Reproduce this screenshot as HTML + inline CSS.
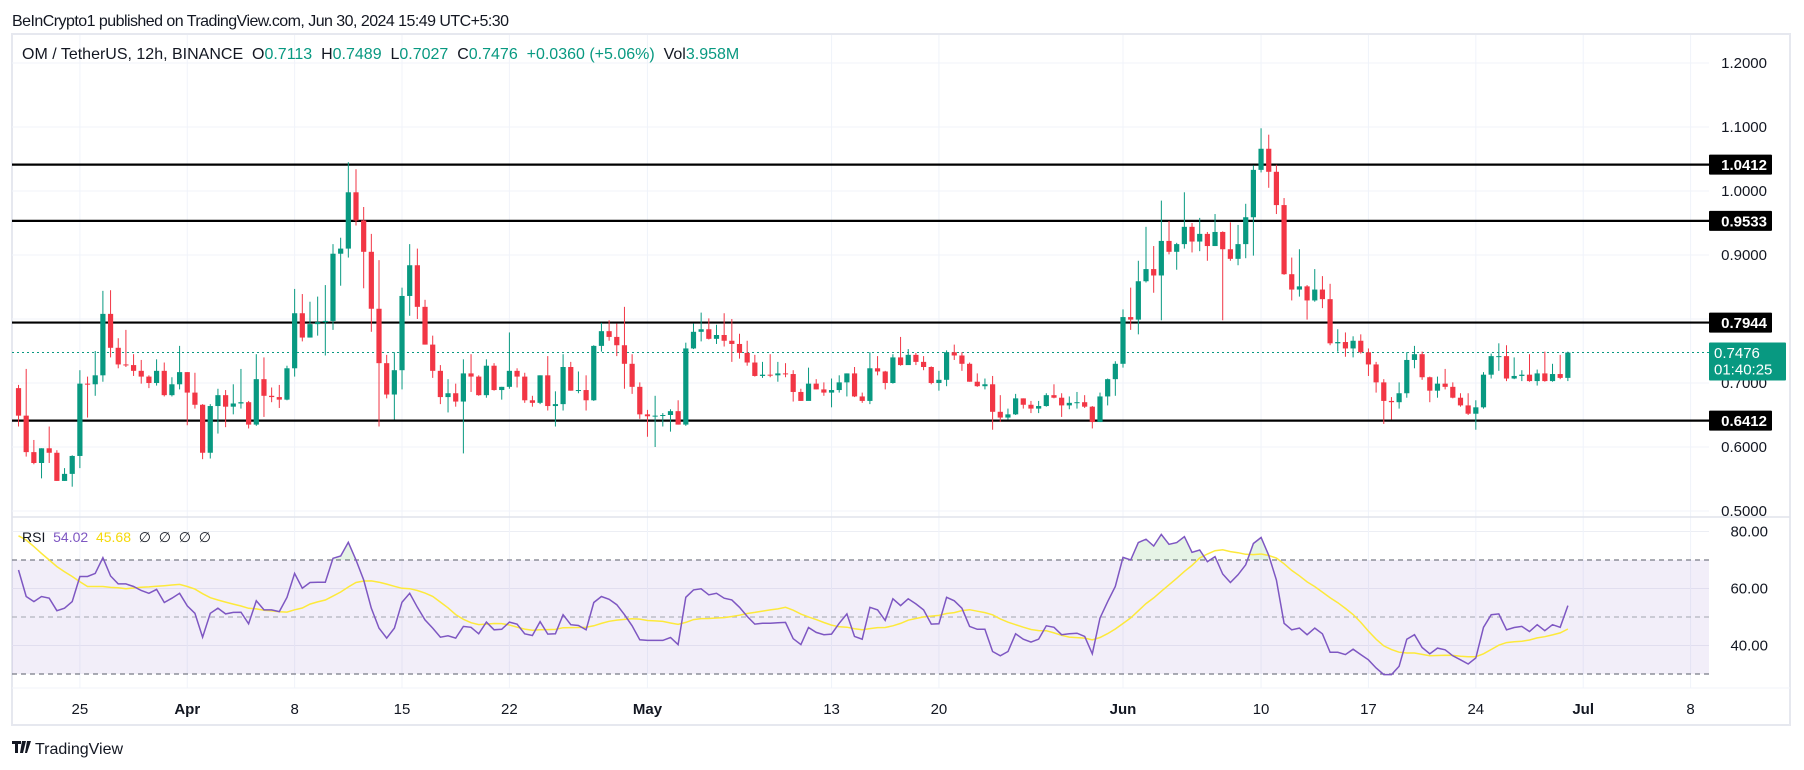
<!DOCTYPE html>
<html><head><meta charset="utf-8"><title>OM / TetherUS 12h chart</title>
<style>
html,body{margin:0;padding:0;background:#fff;}
svg{display:block;font-family:"Liberation Sans",sans-serif;}
</style></head>
<body>
<svg id="chart" width="1804" height="770" viewBox="0 0 1804 770" xmlns="http://www.w3.org/2000/svg">
<rect x="0" y="0" width="1804" height="770" fill="#ffffff"/>
<text x="12" y="26" font-size="16" fill="#131722" textLength="497">BeInCrypto1 published on TradingView.com, Jun 30, 2024 15:49 UTC+5:30</text>
<rect x="12" y="34" width="1778" height="691" fill="none" stroke="#e6e8ef" stroke-width="2"/>
<g id="grid"></g>
<g id="rsiPane"></g>
<g id="levels"></g>
<g id="candles"></g>
<g id="axes"></g>
<g>
<text x="22" y="59" font-size="16" fill="#131722">OM / TetherUS, 12h, BINANCE&#160;&#160;O<tspan fill="#089981">0.7113</tspan>&#160;&#160;H<tspan fill="#089981">0.7489</tspan>&#160;&#160;L<tspan fill="#089981">0.7027</tspan>&#160;&#160;C<tspan fill="#089981">0.7476</tspan>&#160;&#160;<tspan fill="#089981">+0.0360 (+5.06%)</tspan>&#160;&#160;Vol<tspan fill="#089981">3.958M</tspan></text>
<text x="22" y="542" font-size="14" fill="#131722">RSI&#160;&#160;<tspan fill="#7e57c2">54.02</tspan>&#160;&#160;<tspan fill="#f5d90a">45.68</tspan>&#160;&#160;∅&#160;&#160;∅&#160;&#160;∅&#160;&#160;∅</text>
</g>
<g>
<path d="M12 741h9v3h-3v9h-3v-9h-3z M22 741h4l-3 12h-3z M27 741h4l-4 12h-2z" fill="#131722"/>
<text x="35" y="754" font-size="16" fill="#131722">TradingView</text>
</g>
</svg>
<script>
const closes=[0.649,0.592,0.575,0.598,0.591,0.547,0.558,0.586,0.699,0.698,
0.712,0.808,0.755,0.729,0.728,0.719,0.710,0.700,0.719,0.681,
0.698,0.717,0.685,0.666,0.591,0.664,0.681,0.663,0.668,0.670,
0.635,0.706,0.680,0.678,0.674,0.723,0.809,0.771,0.792,0.795,
0.797,0.902,0.910,0.998,0.954,0.905,0.816,0.731,0.682,0.720,
0.836,0.884,0.819,0.760,0.719,0.678,0.684,
0.671,0.715,0.710,0.681,0.727,0.689,0.694,0.719,0.710,0.673,
0.669,0.712,0.664,0.667,0.725,0.688,0.689,0.673,0.758,0.781,
0.772,0.759,0.730,0.694,0.651,0.648,0.649,0.650,0.656,0.635,
0.754,0.780,0.784,0.769,0.775,0.766,0.761,0.747,0.732,0.711,
0.713,0.712,0.715,0.714,0.686,0.672,0.699,0.690,0.685,0.689,
0.701,0.715,0.679,0.672,0.723,0.718,
0.700,0.740,0.728,0.744,0.733,0.725,0.700,0.705,0.748,0.743,
0.730,0.702,0.695,0.698,0.655,0.646,0.651,0.676,0.666,0.660,
0.664,0.681,0.677,0.665,0.669,0.670,0.663,0.639,0.679,0.706,
0.730,0.803,0.799,0.859,0.878,0.868,0.922,0.905,0.917,0.944,
0.921,0.933,0.914,0.936,0.909,0.894,0.917,0.959,1.033,1.066,
1.030,0.978,0.870,0.846,0.851,0.829,
0.846,0.831,0.762,0.764,0.754,0.766,0.748,0.729,0.701,0.672,
0.670,0.684,0.736,0.745,0.709,0.688,0.699,0.694,0.677,0.665,
0.652,0.662,0.713,0.742,0.742,0.707,0.711,0.713,0.703,0.715,
0.703,0.714,0.708,0.7476];
const highs=[0.697,0.722,0.611,0.598,0.632,0.595,0.567,0.587,0.720,0.710,
0.750,0.844,0.845,0.770,0.783,0.745,0.736,0.712,0.737,0.732,
0.709,0.758,0.717,0.716,0.667,0.667,0.691,0.689,0.698,0.722,
0.672,0.745,0.740,0.693,0.697,0.727,0.847,0.839,0.827,0.835,
0.853,0.917,0.927,1.045,1.034,0.975,0.933,0.892,0.744,0.748,
0.849,0.917,0.910,0.830,0.774,0.728,0.706,
0.699,0.737,0.745,0.712,0.737,0.731,0.694,0.779,0.723,0.716,
0.680,0.712,0.742,0.687,0.745,0.733,0.718,0.712,0.759,0.794,
0.798,0.793,0.819,0.745,0.701,0.658,0.680,0.653,0.659,0.673,
0.763,0.793,0.810,0.801,0.791,0.809,0.800,0.777,0.766,0.744,
0.733,0.745,0.733,0.731,0.720,0.691,0.724,0.706,0.701,0.707,
0.712,0.715,0.725,0.685,0.748,0.742,
0.719,0.745,0.772,0.753,0.747,0.742,0.726,0.719,0.751,0.760,
0.748,0.732,0.715,0.707,0.711,0.681,0.660,0.683,0.676,0.672,
0.672,0.684,0.698,0.684,0.679,0.686,0.681,0.664,0.685,0.707,
0.734,0.815,0.849,0.891,0.944,0.914,0.985,0.953,0.919,0.998,
0.950,0.958,0.936,0.964,0.937,0.951,0.947,0.980,1.040,1.098,
1.088,1.041,0.989,0.896,0.909,0.853,
0.878,0.867,0.855,0.784,0.779,0.773,0.776,0.754,0.733,0.706,
0.678,0.701,0.748,0.758,0.749,0.710,0.710,0.722,0.701,0.684,
0.684,0.673,0.717,0.746,0.762,0.759,0.740,0.720,0.745,0.721,
0.749,0.730,0.744,0.749];
const lows=[0.632,0.585,0.573,0.551,0.575,0.547,0.547,0.538,0.567,0.646,
0.680,0.702,0.740,0.723,0.725,0.711,0.699,0.692,0.696,0.679,
0.679,0.690,0.634,0.660,0.581,0.582,0.621,0.631,0.651,0.660,
0.629,0.633,0.647,0.670,0.661,0.673,0.710,0.765,0.771,0.774,
0.743,0.783,0.852,0.896,0.946,0.848,0.780,0.632,0.676,0.643,
0.690,0.805,0.800,0.760,0.708,0.667,0.654,
0.663,0.590,0.686,0.680,0.677,0.688,0.674,0.691,0.693,0.669,
0.663,0.667,0.657,0.632,0.657,0.688,0.684,0.657,0.672,0.749,
0.766,0.742,0.691,0.683,0.644,0.616,0.600,0.632,0.624,0.635,
0.633,0.753,0.765,0.768,0.761,0.757,0.733,0.738,0.727,0.710,
0.708,0.709,0.702,0.709,0.671,0.672,0.673,0.690,0.680,0.662,
0.685,0.679,0.678,0.669,0.667,0.712,
0.690,0.699,0.727,0.730,0.728,0.720,0.698,0.688,0.695,0.736,
0.719,0.702,0.694,0.690,0.627,0.639,0.643,0.650,0.660,0.653,
0.653,0.663,0.676,0.647,0.659,0.660,0.661,0.629,0.639,0.665,
0.680,0.724,0.783,0.776,0.857,0.841,0.798,0.901,0.877,0.910,
0.904,0.906,0.891,0.914,0.798,0.891,0.884,0.895,0.899,1.029,
1.005,0.964,0.869,0.829,0.835,0.799,
0.827,0.817,0.759,0.749,0.741,0.740,0.746,0.711,0.685,0.636,
0.643,0.660,0.677,0.723,0.705,0.670,0.677,0.690,0.676,0.663,
0.650,0.627,0.660,0.707,0.719,0.703,0.706,0.703,0.702,0.696,
0.702,0.702,0.706,0.703];
const firstOpen=0.692;
const rsiValues=[66.5,57.2,55.4,57.2,56.6,52.2,53.1,55.4,64.2,64.2,
65.3,70.8,64.4,61.6,61.6,60.7,59.3,58.3,59.7,55.1,
56.6,58.3,53.9,51.3,42.9,51.3,53.1,51.1,51.6,51.7,
47.6,55.7,52.5,52.5,51.9,56.9,65.3,60.1,62.1,62.2,
62.2,70.6,71.4,76.2,70.0,63.0,53.1,46.1,42.6,46.1,
55.2,58.3,53.4,49.0,46.1,42.9,43.4,42.6,46.7,46.4,
44.1,48.2,45.5,45.7,48.2,47.5,44.1,43.5,48.4,44.0,
44.1,50.8,47.3,47.0,45.5,55.1,57.2,56.2,54.3,50.8,
46.9,42.0,41.8,41.8,41.8,42.8,40.3,56.9,59.5,59.9,
57.8,58.3,56.6,56.0,53.4,50.2,47.5,47.8,47.8,48.0,
48.1,42.4,40.3,
46.3,44.6,43.8,44.0,47.8,51.1,43.2,42.2,53.4,52.5,
48.8,56.4,54.0,56.4,54.6,52.5,47.5,47.6,56.9,55.7,
53.1,46.7,45.7,45.7,37.9,36.4,37.9,44.1,42.2,41.2,
42.2,46.9,46.4,43.8,44.1,44.3,43.2,37.1,49.6,55.4,
60.7,70.9,70.0,76.1,77.3,74.9,79.0,75.5,76.1,78.2,
72.7,73.5,69.4,71.2,65.1,62.1,64.8,68.3,75.8,77.9,
71.7,63.0,47.8,45.5,46.1,43.8,46.1,44.1,37.6,37.6,
36.8,38.7,36.8,35.0,32.1,29.8,29.8,32.7,42.2,43.8,
39.3,37.1,39.1,38.5,36.4,35.0,33.5,35.6,46.4,50.8,
51.1,45.5,46.3,46.7,44.9,47.3,45.2,47.3,46.4,54.0];
const maHead=[78.5,77.0,74.7,72.3,70.0,67.7,65.9,64.2,62.4,60.7,60.7,60.7,60.4];
const levelValues=[1.0412,0.9533,0.7944,0.6412];
const priceTicks=[0.5,0.6,0.7,0.8,0.9,1.0,1.1,1.2];
const rsiTicks=[40,60,80];
const timeLabels=["25","Apr","8","15","22","May","13","20","Jun","10","17","24","Jul","8"];
const timeDays=[-68,-61,-54,-47,-40,-31,-19,-12,0,9,16,23,30,37];
const monthLabels=["Apr","May","Jun","Jul"];

const NS="http://www.w3.org/2000/svg";
const PL=12,PR=1709;
function yP(p){return 63+(1.2-p)*640;}
function yR(r){return 617-(r-50)*2.85;}
function xD(d){return 1123+d*15.34;}
function xI(i){return xD((i-144)/2);}
function mk(tag,attrs,parent){const e=document.createElementNS(NS,tag);for(const k in attrs)e.setAttribute(k,attrs[k]);parent.appendChild(e);return e;}

const grid=document.getElementById('grid');
for(const p of priceTicks){
  const l=mk('line',{x1:PL,x2:PR,y1:yP(p),y2:yP(p),stroke:'#f0f3fa','stroke-width':1},grid);
  
  
}
for(const r of rsiTicks){
  const l=mk('line',{x1:PL,x2:PR,y1:yR(r),y2:yR(r),stroke:'#eceef4','stroke-width':1},grid);
  
  
}
for(const d of timeDays){
  const l=mk('line',{x1:xD(d),x2:xD(d),y1:35,y2:688,stroke:'#f0f3fa','stroke-width':1},grid);
  
  
}
const sep=mk('line',{x1:PL,x2:1790,y1:517,y2:517,stroke:'#e0e3eb','stroke-width':1.5},grid);


const sep2=mk('line',{x1:PL,x2:1790,y1:688,y2:688,stroke:'#f0f3fa','stroke-width':1},grid);



// RSI pane
const rp=document.getElementById('rsiPane');
const band=mk('rect',{x:PL,y:yR(70),width:PR-PL,height:yR(30)-yR(70),fill:'rgba(126,87,194,0.1)'},rp);


for(const [v,nm] of [[70,'rsi-upper-band'],[50,'rsi-middle-band'],[30,'rsi-lower-band']]){
  const l=mk('line',{x1:PL,x2:PR,y1:yR(v),y2:yR(v),stroke:v===50?'#b2b5be':'#787b86','stroke-width':1.2,'stroke-dasharray':'5,4'},rp);
  
  
}
// overbought fill
let ob='';
for(let i=0;i<rsiValues.length-1;i++){
  const a=rsiValues[i],b=rsiValues[i+1];
  if(a>70||b>70){
    const x1=xI(i),x2=xI(i+1);
    let xa=x1,ya=Math.max(a,70),xb=x2,yb=Math.max(b,70);
    if(a<70){xa=x1+(x2-x1)*(70-a)/(b-a);}
    if(b<70){xb=x1+(x2-x1)*(a-70)/(a-b);}
    ob+=`M${xa},${yR(70)}L${xa},${yR(ya)}L${xb},${yR(yb)}L${xb},${yR(70)}Z`;
  }
}
const obp=mk('path',{d:ob,fill:'rgba(76,175,80,0.14)'},rp);


// MA
const ma=[];
for(let i=0;i<rsiValues.length;i++){
  if(i<13){ma.push(maHead[i]);}
  else{let s=0;for(let k=i-13;k<=i;k++)s+=rsiValues[k];ma.push(s/14);}
}
const maPl=mk('polyline',{points:ma.map((v,i)=>xI(i).toFixed(1)+','+yR(v).toFixed(1)).join(' '),fill:'none',stroke:'#fde93b','stroke-width':1.5},rp);


const rsiPl=mk('polyline',{points:rsiValues.map((v,i)=>xI(i).toFixed(1)+','+yR(v).toFixed(1)).join(' '),fill:'none',stroke:'#7e57c2','stroke-width':1.5},rp);



// levels
const lv=document.getElementById('levels');
for(const v of levelValues){
  const l=mk('line',{x1:PL,x2:PR,y1:yP(v),y2:yP(v),stroke:'#000','stroke-width':2.2},lv);
  
  
}
// last price dotted line
const last=closes[closes.length-1];
const lp=mk('line',{x1:PL,x2:PR,y1:yP(last),y2:yP(last),stroke:'#089981','stroke-width':1,'stroke-dasharray':'2,3'},lv);



// candles
const cg=document.getElementById('candles');
for(let i=0;i<closes.length;i++){
  const o=i===0?firstOpen:closes[i-1],c=closes[i];
  const col=c>=o?'#089981':'#f23645';
  const x=xI(i);
  const w=mk('line',{x1:x,x2:x,y1:yP(highs[i]),y2:yP(lows[i]),stroke:col,'stroke-width':1},cg);
  
  
  const top=yP(Math.max(o,c)),h=Math.max(1,Math.abs(yP(o)-yP(c)));
  const b=mk('rect',{x:x-2.6,y:top,width:5.2,height:h,fill:col},cg);
  
  
}

// axes
const ax=document.getElementById('axes');
for(const p of priceTicks){
  if(p>=1.2&&false)continue;
  const t=mk('text',{x:1767,y:yP(p)+5,'font-size':15,fill:'#131722','text-anchor':'end'},ax);
  t.textContent=p.toFixed(4);
  
  
}
for(const r of rsiTicks){
  const t=mk('text',{x:1768,y:yR(r)+5,'font-size':15,fill:'#131722','text-anchor':'end'},ax);
  t.textContent=r.toFixed(2);
  
  
}
for(let k=0;k<timeLabels.length;k++){
  const t=mk('text',{x:xD(timeDays[k]),y:714,'font-size':15,fill:'#131722','text-anchor':'middle','font-weight':monthLabels.includes(timeLabels[k])?'bold':'normal'},ax);
  t.textContent=timeLabels[k];
  
  
}
for(const v of levelValues){
  const r=mk('rect',{x:1709,y:yP(v)-10,width:63,height:20,fill:'#000',rx:1},ax);
  
  
  const t=mk('text',{x:1767,y:yP(v)+5.5,'font-size':15,fill:'#fff','text-anchor':'end','font-weight':'bold'},ax);
  t.textContent=v.toFixed(4);
  
  
}
const lb=mk('rect',{x:1709,y:yP(last)-10,width:77,height:38,fill:'#089981',rx:1},ax);


const lt=mk('text',{x:1714,y:yP(last)+5.5,'font-size':15,fill:'#fff'},ax);
lt.textContent=last.toFixed(4);


const ct=mk('text',{x:1714,y:yP(last)+22,'font-size':15,fill:'#fff'},ax);
ct.textContent='01:40:25';


</script>
</body></html>
